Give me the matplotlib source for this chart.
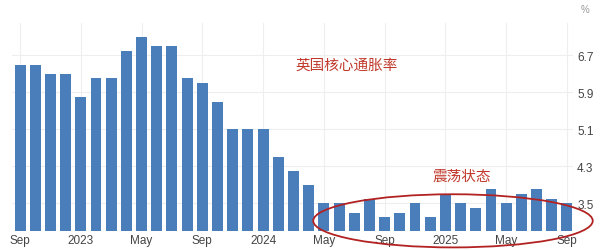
import matplotlib.pyplot as plt
import numpy as np
from matplotlib.patches import Ellipse

plt.rcParams['font.family'] = ['Liberation Sans', 'Noto Sans CJK SC', 'DejaVu Sans']

# UK core CPI, Sep 2022 - Sep 2025 (monthly)
months = ["Sep", "Oct", "Nov", "Dec", "Jan", "Feb", "Mar", "Apr", "May", "Jun", "Jul", "Aug",
          "Sep", "Oct", "Nov", "Dec", "Jan", "Feb", "Mar", "Apr", "May", "Jun", "Jul", "Aug",
          "Sep", "Oct", "Nov", "Dec", "Jan", "Feb", "Mar", "Apr", "May", "Jun", "Jul", "Aug",
          "Sep"]
core_cpi = [6.5, 6.5, 6.3, 6.3, 5.8, 6.2, 6.2, 6.8, 7.1, 6.9, 6.9, 6.2,
            6.1, 5.7, 5.1, 5.1, 5.1, 4.5, 4.2, 3.9, 3.5, 3.5, 3.3, 3.6,
            3.2, 3.3, 3.5, 3.2, 3.7, 3.5, 3.4, 3.8, 3.5, 3.7, 3.8, 3.6,
            3.5]
tick_idx = [0, 4, 8, 12, 16, 20, 24, 28, 32, 36]
tick_labels = ["Sep", "2023", "May", "Sep", "2024", "May", "Sep", "2025", "May", "Sep"]
y_ticks = [3.5, 4.3, 5.1, 5.9, 6.7]

fig = plt.figure(figsize=(6.01, 2.51), dpi=100)
ax = fig.add_axes([12 / 601, 19 / 251, 561 / 601, 208 / 251])

x = np.arange(len(core_cpi))
ax.bar(x, core_cpi, width=0.72, color="#4a7ebb", zorder=2)

ax.set_xlim(-0.53, 36.4)
ax.set_ylim(2.9, 7.4)
ax.set_xticks(tick_idx)
ax.set_xticklabels(tick_labels)
ax.set_yticks(y_ticks)
ax.yaxis.tick_right()
ax.tick_params(axis="both", length=0, labelsize=8.5, labelcolor="#444444")
ax.tick_params(axis="x", pad=2)
ax.tick_params(axis="y", pad=3)
ax.grid(True, color="#eeeeee", linewidth=0.8, zorder=0)
for s in ax.spines.values():
    s.set_visible(False)
ax.axvline(36.4, color="#e6e6e6", linewidth=0.8)

fig.text(585 / 601, 1 - 10 / 251, "%", fontsize=7, color="#999999", ha="center", va="center")

# annotations
ax.text(21.5, 6.5, "英国核心通胀率", fontsize=10.5, color="#c0392b", ha="center", va="center")
ax.text(29.1, 4.1, "震荡状态", fontsize=10.5, color="#c0392b", ha="center", va="center")
ax.add_patch(Ellipse((28.5, 3.12), 18.4, 1.15, fill=False, edgecolor="#b22222",
                     linewidth=1.3, clip_on=False, zorder=5))

fig.savefig("out.png", dpi=100)
